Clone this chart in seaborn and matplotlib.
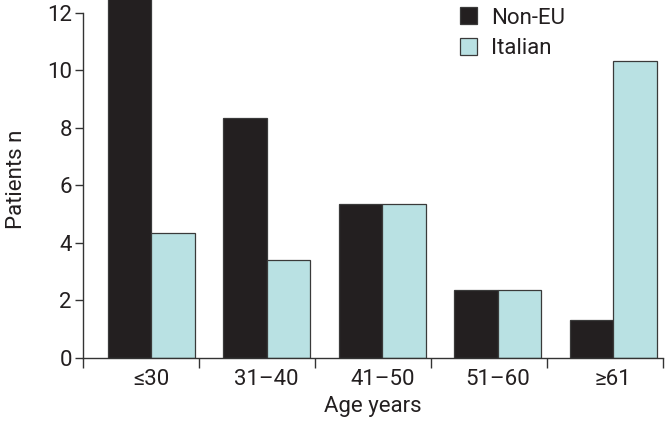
import matplotlib
matplotlib.use("Agg")
import matplotlib.pyplot as plt
import seaborn as sns
import pandas as pd

categories = ["≤30", "31–40", "41–50", "51–60", "≥61"]
non_eu = [13.0, 8.35, 5.36, 2.37, 1.31]
italian = [4.33, 3.41, 5.36, 2.37, 10.33]
series = ["Non-EU", "Italian"]
colors = ["#231f20", "#b9e1e3"]

df = pd.DataFrame({
    "Age": categories * 2,
    "Patients": non_eu + italian,
    "Group": [series[0]] * len(categories) + [series[1]] * len(categories),
})

sns.set_theme(style="white")
plt.rcParams['font.family'] = ['Roboto', 'DejaVu Sans']
txt = "#231f20"
fs = 16

fig = plt.figure(figsize=(6.68, 4.24), dpi=100)
ax = fig.add_axes([0.1243, 0.1557, 0.8682, 0.8443])
sns.barplot(data=df, x="Age", y="Patients", hue="Group", order=categories,
            hue_order=series, palette=colors, width=0.75, edgecolor="#3a3a3a",
            linewidth=0.9, ax=ax, saturation=1)

ax.set_xlim(-0.59, 4.43)
ax.set_ylim(0, 12.45)
ax.set_yticks([0, 2, 4, 6, 8, 10, 12])
for s in ["top", "right"]:
    ax.spines[s].set_visible(False)
ax.spines["left"].set_bounds(0, 12)
for s in ["left", "bottom"]:
    ax.spines[s].set_color("#333333")
    ax.spines[s].set_linewidth(1.0)

ax.tick_params(axis="y", direction="out", length=6, width=1, color="#333333",
               labelsize=fs, labelcolor=txt, pad=2, left=True)
ax.tick_params(axis="x", which="major", length=0, labelsize=fs, labelcolor=txt, pad=8)
ax.set_xticks([-0.59 + k * 1.004 for k in range(6)], minor=True)
ax.tick_params(axis="x", which="minor", direction="out", length=7, width=1,
               color="#333333", bottom=True)

ax.set_xlabel("Age years", fontsize=fs, color=txt, labelpad=4)
ax.set_ylabel("Patients n", fontsize=fs, color=txt, labelpad=14)

leg = ax.legend(loc="upper left", bbox_to_anchor=(0.615, 1.035), frameon=False,
                fontsize=fs, handlelength=0.8, handleheight=0.8,
                handletextpad=0.6, labelspacing=0.4)
for t in leg.get_texts():
    t.set_color(txt)

fig.savefig("out.png", dpi=100)
